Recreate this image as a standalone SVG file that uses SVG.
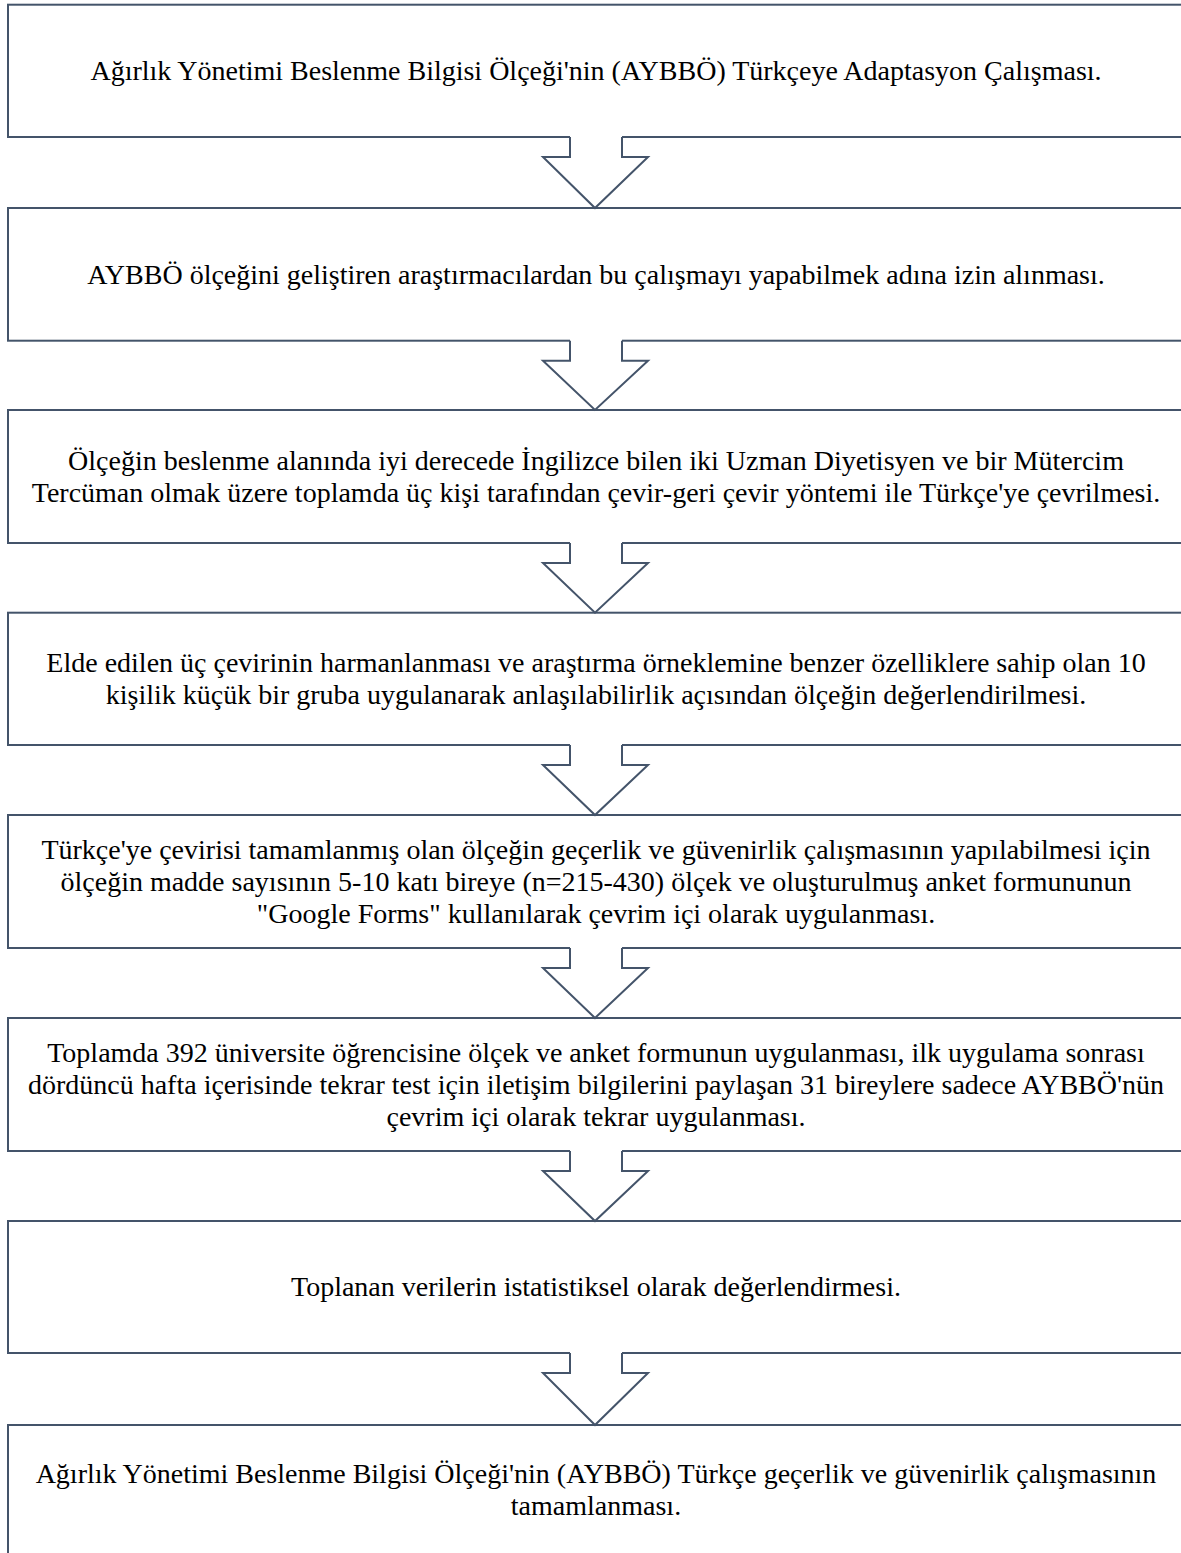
<svg xmlns="http://www.w3.org/2000/svg" width="1181" height="1553" viewBox="0 0 1181 1553">
<defs>
<style>
.box{fill:#ffffff;stroke:#44546A;stroke-width:2}
.arrfill{fill:#ffffff;stroke:none}
.arr{fill:none;stroke:#44546A;stroke-width:2;stroke-linejoin:miter}
.t{font-family:"Liberation Serif","Times New Roman",serif;font-size:28px;fill:#000000;text-anchor:middle}
</style>
</defs>
<rect x="0" y="0" width="1181" height="1553" fill="#ffffff"/>
<g id="n1"><rect class="box" x="8" y="4.7" width="1185" height="132.3"/><text class="t" x="596" y="80">Ağırlık Yönetimi Beslenme Bilgisi Ölçeği'nin (AYBBÖ) Türkçeye Adaptasyon Çalışması.</text></g>
<g id="n2"><rect class="box" x="8" y="208" width="1185" height="132.7"/><text class="t" x="596" y="283.5">AYBBÖ ölçeğini geliştiren araştırmacılardan bu çalışmayı yapabilmek adına izin alınması.</text></g>
<g id="n3"><rect class="box" x="8" y="410" width="1185" height="133"/><text class="t" x="596" y="469.5">Ölçeğin beslenme alanında iyi derecede İngilizce bilen iki Uzman Diyetisyen ve bir Mütercim</text><text class="t" x="596" y="501.5">Tercüman olmak üzere toplamda üç kişi tarafından çevir-geri çevir yöntemi ile Türkçe'ye çevrilmesi.</text></g>
<g id="n4"><rect class="box" x="8" y="612.7" width="1185" height="132.3"/><text class="t" x="596" y="672">Elde edilen üç çevirinin harmanlanması ve araştırma örneklemine benzer özelliklere sahip olan 10</text><text class="t" x="596" y="704">kişilik küçük bir gruba uygulanarak anlaşılabilirlik açısından ölçeğin değerlendirilmesi.</text></g>
<g id="n5"><rect class="box" x="8" y="815" width="1185" height="133"/><text class="t" x="596" y="858.5">Türkçe'ye çevirisi tamamlanmış olan ölçeğin geçerlik ve güvenirlik çalışmasının yapılabilmesi için</text><text class="t" x="596" y="890.5">ölçeğin madde sayısının 5-10 katı bireye (n=215-430) ölçek ve oluşturulmuş anket formununun</text><text class="t" x="596" y="922.5">"Google Forms" kullanılarak çevrim içi olarak uygulanması.</text></g>
<g id="n6"><rect class="box" x="8" y="1018" width="1185" height="133"/><text class="t" x="596" y="1061.5">Toplamda 392 üniversite öğrencisine ölçek ve anket formunun uygulanması, ilk uygulama sonrası</text><text class="t" x="596" y="1093.5">dördüncü hafta içerisinde tekrar test için iletişim bilgilerini paylaşan 31 bireylere sadece AYBBÖ'nün</text><text class="t" x="596" y="1125.5">çevrim içi olarak tekrar uygulanması.</text></g>
<g id="n7"><rect class="box" x="8" y="1221" width="1185" height="132"/><text class="t" x="596" y="1296">Toplanan verilerin istatistiksel olarak değerlendirmesi.</text></g>
<g id="n8"><rect class="box" x="8" y="1425" width="1185" height="140"/><text class="t" x="596" y="1483">Ağırlık Yönetimi Beslenme Bilgisi Ölçeği'nin (AYBBÖ) Türkçe geçerlik ve güvenirlik çalışmasının</text><text class="t" x="596" y="1515">tamamlanması.</text></g>
<g id="connectors">
<g transform="translate(0,137)"><polygon class="arrfill" points="570,-2 570,20 543,20 595,71 648,20 622,20 622,-2"/><polyline class="arr" points="570,0 570,20 543,20 595,71 648,20 622,20 622,0"/></g>
<g transform="translate(0,340.7)"><polygon class="arrfill" points="570,-2 570,20 543,20 595,69.3 648,20 622,20 622,-2"/><polyline class="arr" points="570,0 570,20 543,20 595,69.3 648,20 622,20 622,0"/></g>
<g transform="translate(0,543)"><polygon class="arrfill" points="570,-2 570,20 543,20 595,69.7 648,20 622,20 622,-2"/><polyline class="arr" points="570,0 570,20 543,20 595,69.7 648,20 622,20 622,0"/></g>
<g transform="translate(0,745)"><polygon class="arrfill" points="570,-2 570,20 543,20 595,70 648,20 622,20 622,-2"/><polyline class="arr" points="570,0 570,20 543,20 595,70 648,20 622,20 622,0"/></g>
<g transform="translate(0,948)"><polygon class="arrfill" points="570,-2 570,20 543,20 595,70 648,20 622,20 622,-2"/><polyline class="arr" points="570,0 570,20 543,20 595,70 648,20 622,20 622,0"/></g>
<g transform="translate(0,1151)"><polygon class="arrfill" points="570,-2 570,20 543,20 595,70 648,20 622,20 622,-2"/><polyline class="arr" points="570,0 570,20 543,20 595,70 648,20 622,20 622,0"/></g>
<g transform="translate(0,1353)"><polygon class="arrfill" points="570,-2 570,20 543,20 595,72 648,20 622,20 622,-2"/><polyline class="arr" points="570,0 570,20 543,20 595,72 648,20 622,20 622,0"/></g>
</g>
</svg>
